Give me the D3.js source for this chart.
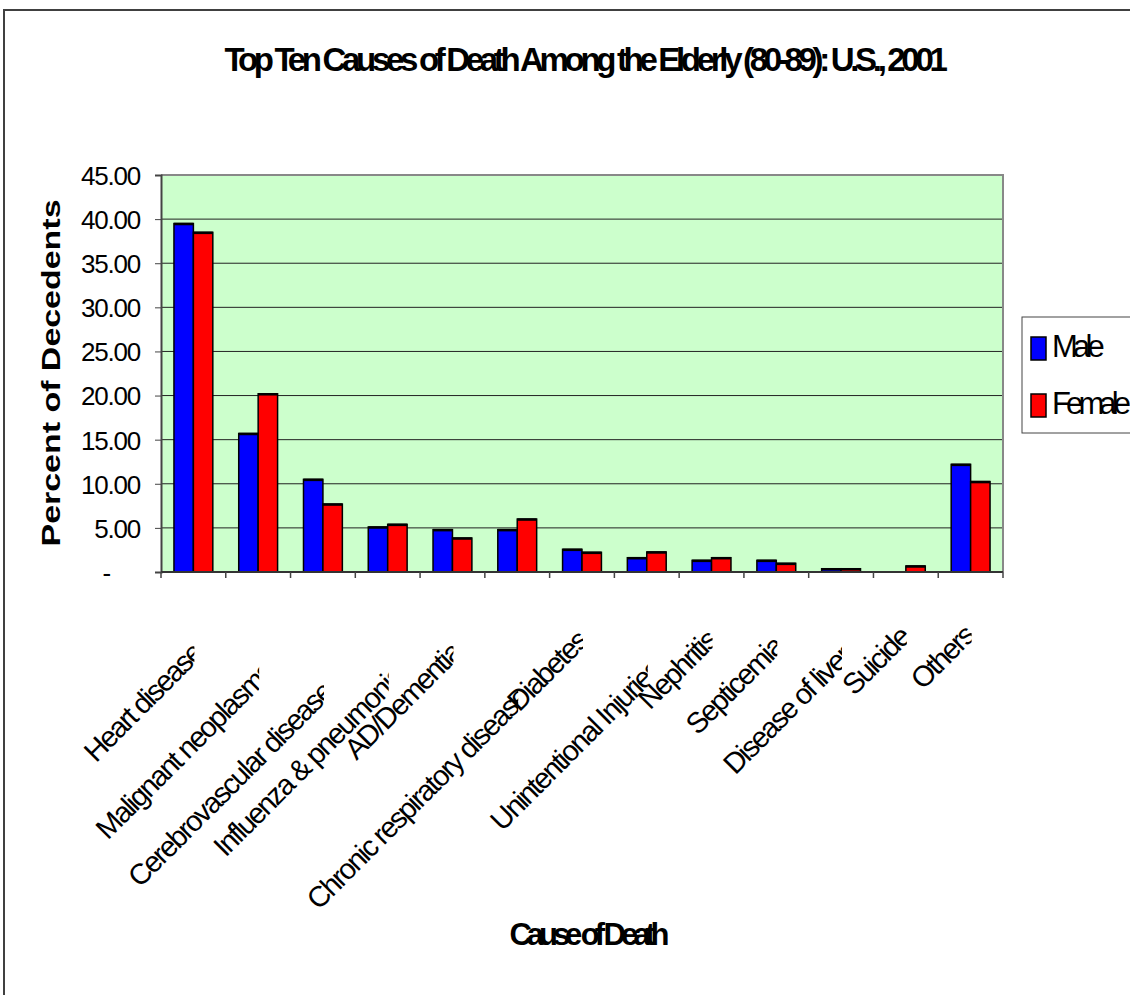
<!DOCTYPE html>
<html>
<head>
<meta charset="utf-8">
<script src="https://cdn.jsdelivr.net/npm/d3@7"></script>
<style>
  html, body { margin: 0; padding: 0; background: #fff; }
  svg { display: block; }
  text { font-family: "Liberation Sans", Arial, sans-serif; fill: #000; }
</style>
</head>
<body>
<svg id="chart" width="1130" height="995"></svg>
<script>
// ---- data ----
const categories = [
  "Heart disease", "Malignant neoplasms", "Cerebrovascular diseases",
  "Influenza & pneumonia", "AD/Dementia", "Chronic respiratory diseases",
  "Diabetes", "Unintentional Injuries", "Nephritis", "Septicemia",
  "Disease of liver", "Suicide", "Others"
];
const seriesNames = ["Male", "Female"];
const maleValues   = [39.5, 15.7, 10.5, 5.1, 4.8, 4.8, 2.57, 1.62, 1.32, 1.32, 0.37, 0, 12.2];
const femaleValues = [38.5, 20.2, 7.7, 5.4, 3.85, 6.0, 2.23, 2.27, 1.62, 0.98, 0.37, 0.68, 10.25];
const yTicks = [0, 5, 10, 15, 20, 25, 30, 35, 40, 45];
const titleText = "Top Ten Causes of Death Among the Elderly (80-89): U.S., 2001";
const xTitle = "Cause of Death";
const yTitle = "Percent of Decedents";

// ---- layout ----
const colors = { Male: "#0000ff", Female: "#ff0000" };
const plot = { left: 161, right: 1003, top: 175, bottom: 572 };

const svg = d3.select("#chart");

// squeeze a text to a target width with negative letter-spacing (glyphs overlap like the original)
function fitText(t, target) {
  const node = t.node();
  const n = node.textContent.length;
  const L = node.getComputedTextLength();
  t.style("letter-spacing", ((target - L) / n) + "px");
  return t;
}

// outer chart border
svg.append("rect").attr("x", 4).attr("y", 10).attr("width", 1300).attr("height", 1200)
  .attr("fill", "#fff").attr("stroke", "#404040").attr("stroke-width", 2);

const x0 = d3.scaleBand().domain(categories).range([plot.left, plot.right])
  .paddingInner(0.4).paddingOuter(0.2);
const x1 = d3.scaleBand().domain(seriesNames).range([0, x0.bandwidth()]);
const y = d3.scaleLinear().domain([0, 45]).range([plot.bottom, plot.top]);

// plot background
svg.append("rect").attr("x", plot.left).attr("y", plot.top)
  .attr("width", plot.right - plot.left).attr("height", plot.bottom - plot.top)
  .attr("fill", "#ccffcc");

// gridlines
svg.append("g").selectAll("line").data(yTicks.filter(d => d > 0 && d < 45)).join("line")
  .attr("x1", plot.left).attr("x2", plot.right)
  .attr("y1", d => y(d)).attr("y2", d => y(d))
  .attr("stroke", "#222").attr("stroke-width", 1);

// plot frame top / right
svg.append("path")
  .attr("d", `M${plot.left},${plot.top}H${plot.right}V${plot.bottom}`)
  .attr("fill", "none").attr("stroke", "#888").attr("stroke-width", 2);

// bars
const rows = categories.map((c, i) => ({ cat: c, vals: [
  { key: "Male", v: maleValues[i] }, { key: "Female", v: femaleValues[i] }] }));
const groups = svg.append("g").selectAll("g").data(rows).join("g")
  .attr("transform", d => `translate(${x0(d.cat)},0)`);
groups.selectAll("rect").data(d => d.vals.filter(e => e.v > 0)).join("rect")
  .attr("x", d => x1(d.key)).attr("width", x1.bandwidth())
  .attr("y", d => y(d.v)).attr("height", d => y(0) - y(d.v))
  .attr("fill", d => colors[d.key]).attr("stroke", "#000").attr("stroke-width", 1.5);
groups.selectAll("line.top").data(d => d.vals.filter(e => e.v > 0)).join("line")
  .attr("class", "top")
  .attr("x1", d => x1(d.key)).attr("x2", d => x1(d.key) + x1.bandwidth())
  .attr("y1", d => y(d.v) + 0.5).attr("y2", d => y(d.v) + 0.5)
  .attr("stroke", "#000").attr("stroke-width", 2.5);

// y axis
const yAxis = d3.axisLeft(y).tickValues(yTicks).tickSize(6).tickFormat(d => d === 0 ? "-" : d.toFixed(2));
const gy = svg.append("g").attr("transform", `translate(${plot.left},0)`).call(yAxis);
gy.select(".domain").attr("stroke", "#444").attr("stroke-width", 2);
gy.selectAll(".tick line").attr("stroke", "#444");
gy.selectAll(".tick text")
  .attr("x", d => d === 0 ? -51 : -21)
  .attr("dy", "0.36em")
  .style("font-size", "26px").style("letter-spacing", "-1.2px");

// x axis (category boundary ticks)
const step = x0.step();
const bounds = d3.range(categories.length + 1).map(i => plot.left + i * step);
svg.append("line").attr("x1", plot.left).attr("x2", plot.right)
  .attr("y1", plot.bottom).attr("y2", plot.bottom).attr("stroke", "#333").attr("stroke-width", 2);
svg.append("g").selectAll("line").data(bounds).join("line")
  .attr("x1", d => d).attr("x2", d => d).attr("y1", plot.bottom).attr("y2", plot.bottom + 6)
  .attr("stroke", "#444").attr("stroke-width", 1.5);

// x category labels (rotated, clipped at category centre like the original)
const defs = svg.append("defs");
const labels = svg.append("g");
categories.forEach((c, i) => {
  const cx = x0(c) + x0.bandwidth() / 2;
  const id = "clip" + i;
  defs.append("clipPath").attr("id", id).append("rect")
    .attr("x", 0).attr("y", 0).attr("width", cx + 1).attr("height", 995);
  const wrap = labels.append("g").attr("clip-path", `url(#${id})`);
  const t = wrap.append("text").text(c)
    .style("font-size", "29px").style("letter-spacing", "-2px")
    .attr("text-anchor", "end");
  const L = t.node().getComputedTextLength();
  const yb = 621 + 0.294 * L;
  const fx = cx + 0.07 * L, fy = yb - 0.07 * L;
  t.attr("transform", `translate(${fx},${fy}) rotate(-45)`);
});

// title
fitText(svg.append("text").attr("x", 584).attr("y", 71).attr("text-anchor", "middle")
  .style("font-size", "33px").style("font-weight", "bold").text(titleText), 719);

// x title
fitText(svg.append("text").attr("x", 587).attr("y", 945).attr("text-anchor", "middle")
  .style("font-size", "31px").style("font-weight", "bold").text(xTitle), 155);

// y title
svg.append("text").attr("transform", "translate(60,373) rotate(-90)").attr("text-anchor", "middle")
  .attr("textLength", 347).attr("lengthAdjust", "spacingAndGlyphs")
  .style("font-size", "25px").style("font-weight", "bold").text(yTitle);

// legend
const lg = svg.append("g");
lg.append("rect").attr("x", 1022).attr("y", 317).attr("width", 200).attr("height", 116)
  .attr("fill", "#fff").attr("stroke", "#444").attr("stroke-width", 1);
const legendRows = lg.selectAll("g.item").data(seriesNames).join("g").attr("class", "item")
  .attr("transform", (d, i) => `translate(1031,${337 + i * 57})`);
legendRows.append("rect").attr("width", 15).attr("height", 23)
  .attr("fill", d => colors[d]).attr("stroke", "#000").attr("stroke-width", 1.5);
legendRows.append("text").attr("x", 21).attr("y", 20)
  .style("font-size", "31px").text(d => d)
  .each(function (d) { fitText(d3.select(this), d === "Male" ? 48 : 74); });
</script>
</body>
</html>
